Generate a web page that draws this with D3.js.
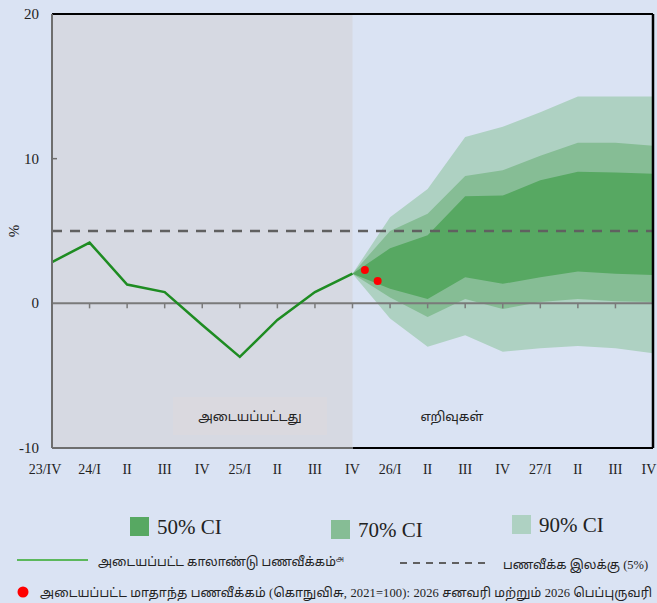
<!DOCTYPE html>
<html>
<head>
<meta charset="utf-8">
<script src="https://cdn.jsdelivr.net/npm/d3@7"></script>
<style>
  body { margin: 0; background: #dae3f3; }
  svg { display: block; }
  .num { font-family: "Liberation Serif", "Times New Roman", serif; fill: #222; }
  .ta { font-family: "Liberation Serif", "Noto Sans Tamil", "Noto Sans", serif; fill: #222; }
</style>
</head>
<body>
<svg id="chart"></svg>
<script>
(function() {
    const width = 657;
    const height = 603;

    // quarter labels (index 0 = 23/IV)
    const quarters = ["23/IV", "24/I", "II", "III", "IV", "25/I", "II", "III", "IV",
                      "26/I", "II", "III", "IV", "27/I", "II", "III", "IV"];

    // actual quarterly inflation, index 0..8
    const actual = [2.85, 4.2, 1.3, 0.78, -1.5, -3.7, -1.15, 0.78, 2.05];

    // monthly inflation Jan / Feb 2026 (x in quarter units)
    const monthPos = [8.33, 8.67];
    const monthVals = [2.3, 1.55];

    // fan chart, index 8..16
    const fanIdx = [8, 9, 10, 11, 12, 13, 14, 15, 16];
    const ci90Hi = [2.05, 5.95, 7.9, 11.5, 12.2, 13.2, 14.3, 14.3, 14.3];
    const ci70Hi = [2.05, 5.0, 6.2, 8.8, 9.2, 10.2, 11.1, 11.1, 10.9];
    const ci50Hi = [2.05, 3.8, 4.7, 7.4, 7.45, 8.5, 9.1, 9.05, 8.95];
    const ci50Lo = [2.05, 1.0, 0.3, 1.8, 1.35, 1.8, 2.2, 2.05, 1.95];
    const ci70Lo = [2.05, 0.4, -0.95, 0.3, -0.4, 0.1, 0.3, 0.15, 0.1];
    const ci90Lo = [2.05, -1.05, -3.0, -2.2, -3.35, -3.1, -2.95, -3.1, -3.45];

    const target = 5;
    const yTicks = [-10, 0, 10, 20];

    const colors = { c50: "#57a862", c70: "#86bd95", c90: "#aed1c2" };

    const svg = d3.select("#chart")
        .attr("width", width)
        .attr("height", height);

    svg.append("rect").attr("width", width).attr("height", height).attr("fill", "#dae3f3");

    const x = d3.scaleLinear().domain([0, 16]).range([52, 653]);
    const y = d3.scaleLinear().domain([-10, 20]).range([448, 14]);

    // --- BACKGROUND REGIONS ---
    svg.append("rect")
        .attr("x", x(0)).attr("y", y(20))
        .attr("width", x(8) - x(0)).attr("height", y(-10) - y(20))
        .attr("fill", "#d6d9e2");

    svg.append("rect")
        .attr("x", 173).attr("y", 397).attr("width", 154).attr("height", 38)
        .attr("fill", "#dad9df");

    // --- FAN ---
    const band = (lo, hi) => d3.area()
        .x((d, i) => x(fanIdx[i]))
        .y0((d, i) => y(lo[i]))
        .y1((d, i) => y(hi[i]))(fanIdx);

    svg.append("path").attr("d", band(ci90Lo, ci90Hi)).attr("fill", colors.c90);
    svg.append("path").attr("d", band(ci70Lo, ci70Hi)).attr("fill", colors.c70);
    svg.append("path").attr("d", band(ci50Lo, ci50Hi)).attr("fill", colors.c50);

    // --- ZERO LINE + TICKS ---
    svg.append("line")
        .attr("x1", x(0)).attr("x2", x(16))
        .attr("y1", y(0)).attr("y2", y(0))
        .attr("stroke", "#7a7a7a").attr("stroke-width", 2);

    svg.append("g").selectAll("line")
        .data(d3.range(1, 16))
        .join("line")
        .attr("x1", d => x(d)).attr("x2", d => x(d))
        .attr("y1", y(0)).attr("y2", y(0) + 5)
        .attr("stroke", "#7a7a7a").attr("stroke-width", 1.5);

    // --- TARGET ---
    svg.append("line")
        .attr("x1", x(0)).attr("x2", x(16))
        .attr("y1", y(target)).attr("y2", y(target))
        .attr("stroke", "#606060").attr("stroke-width", 2.5)
        .attr("stroke-dasharray", "10,8");

    // --- ACTUAL LINE ---
    svg.append("path")
        .datum(actual)
        .attr("d", d3.line().x((d, i) => x(i)).y(d => y(d)))
        .attr("fill", "none")
        .attr("stroke", "#1e8c22")
        .attr("stroke-width", 2.5);

    svg.append("g").selectAll("circle")
        .data(monthVals)
        .join("circle")
        .attr("cx", (d, i) => x(monthPos[i]))
        .attr("cy", d => y(d))
        .attr("r", 4)
        .attr("fill", "#ff0000");

    // --- FRAME ---
    svg.append("line").attr("x1", x(0)).attr("x2", x(16)).attr("y1", y(20)).attr("y2", y(20))
        .attr("stroke", "#000").attr("stroke-width", 2);
    svg.append("line").attr("x1", x(16)).attr("x2", x(16)).attr("y1", y(20)).attr("y2", y(-10))
        .attr("stroke", "#000").attr("stroke-width", 2.5);
    svg.append("line").attr("x1", x(8)).attr("x2", x(16)).attr("y1", y(-10)).attr("y2", y(-10))
        .attr("stroke", "#000").attr("stroke-width", 2);
    svg.append("line").attr("x1", x(0)).attr("x2", x(8)).attr("y1", y(-10)).attr("y2", y(-10))
        .attr("stroke", "#6e6e6e").attr("stroke-width", 2);
    svg.append("line").attr("x1", x(0)).attr("x2", x(0)).attr("y1", y(20)).attr("y2", y(-10))
        .attr("stroke", "#6e6e6e").attr("stroke-width", 2);
    svg.append("line").attr("x1", x(0)).attr("x2", x(0) + 5).attr("y1", y(10)).attr("y2", y(10))
        .attr("stroke", "#6e6e6e").attr("stroke-width", 1.5);

    // --- AXIS LABELS ---
    svg.append("g").selectAll("text")
        .data(yTicks)
        .join("text")
        .attr("class", "num")
        .attr("x", 39).attr("y", d => y(d) + 5)
        .attr("text-anchor", "end")
        .attr("font-size", 15)
        .text(d => d);

    svg.append("text")
        .attr("class", "num")
        .attr("transform", `translate(19,${y(5)}) rotate(-90)`)
        .attr("text-anchor", "middle")
        .attr("font-size", 15)
        .text("%");

    svg.append("g").selectAll("text")
        .data(quarters)
        .join("text")
        .attr("class", "num")
        .attr("x", (d, i) => i === 0 ? x(i) - 7 : (i === 16 ? x(i) - 4 : x(i)))
        .attr("y", 474)
        .attr("text-anchor", "middle")
        .attr("font-size", 14)
        .text(d => d);

    svg.append("text").attr("class", "ta")
        .attr("x", 250).attr("y", 421).attr("text-anchor", "middle")
        .attr("font-size", 13).text("அடையப்பட்டது");
    svg.append("text").attr("class", "ta")
        .attr("x", 452).attr("y", 421).attr("text-anchor", "middle")
        .attr("font-size", 13).text("எறிவுகள்");

    // --- LEGEND ---
    const legendCI = [
        { label: "50% CI", color: colors.c50, x: 130, y: 517 },
        { label: "70% CI", color: colors.c70, x: 331, y: 520 },
        { label: "90% CI", color: colors.c90, x: 512, y: 515 }
    ];
    const lg = svg.append("g");
    lg.selectAll("rect")
        .data(legendCI)
        .join("rect")
        .attr("x", d => d.x).attr("y", d => d.y)
        .attr("width", 19).attr("height", 19)
        .attr("fill", d => d.color);
    lg.selectAll("text")
        .data(legendCI)
        .join("text")
        .attr("class", "num")
        .attr("x", d => d.x + 27).attr("y", d => d.y + 17)
        .attr("font-size", 21)
        .text(d => d.label);

    svg.append("line").attr("x1", 17).attr("x2", 88).attr("y1", 560).attr("y2", 560)
        .attr("stroke", "#5cb85c").attr("stroke-width", 2);
    const t1 = svg.append("text").attr("class", "ta")
        .attr("x", 98).attr("y", 566).attr("font-size", 12.5);
    t1.append("tspan").text("அடையப்பட்ட காலாண்டு பணவீக்கம்");
    t1.append("tspan").attr("font-size", 7).attr("dy", -5).text("அ");

    svg.append("line").attr("x1", 400).attr("x2", 487).attr("y1", 563).attr("y2", 563)
        .attr("stroke", "#606060").attr("stroke-width", 2)
        .attr("stroke-dasharray", "7,6");
    svg.append("text").attr("class", "ta")
        .attr("x", 503).attr("y", 569).attr("font-size", 12.5)
        .text("பணவீக்க இலக்கு (5%)");

    svg.append("circle").attr("cx", 23).attr("cy", 592).attr("r", 5.5).attr("fill", "#ff0000");
    svg.append("text").attr("class", "ta")
        .attr("x", 40).attr("y", 597).attr("font-size", 12.5)
        .attr("textLength", 612).attr("lengthAdjust", "spacing")
        .text("அடையப்பட்ட மாதாந்த பணவீக்கம் (கொநுவிசு, 2021=100): 2026 சனவரி மற்றும் 2026 பெப்புருவரி");
})();
</script>
</body>
</html>
